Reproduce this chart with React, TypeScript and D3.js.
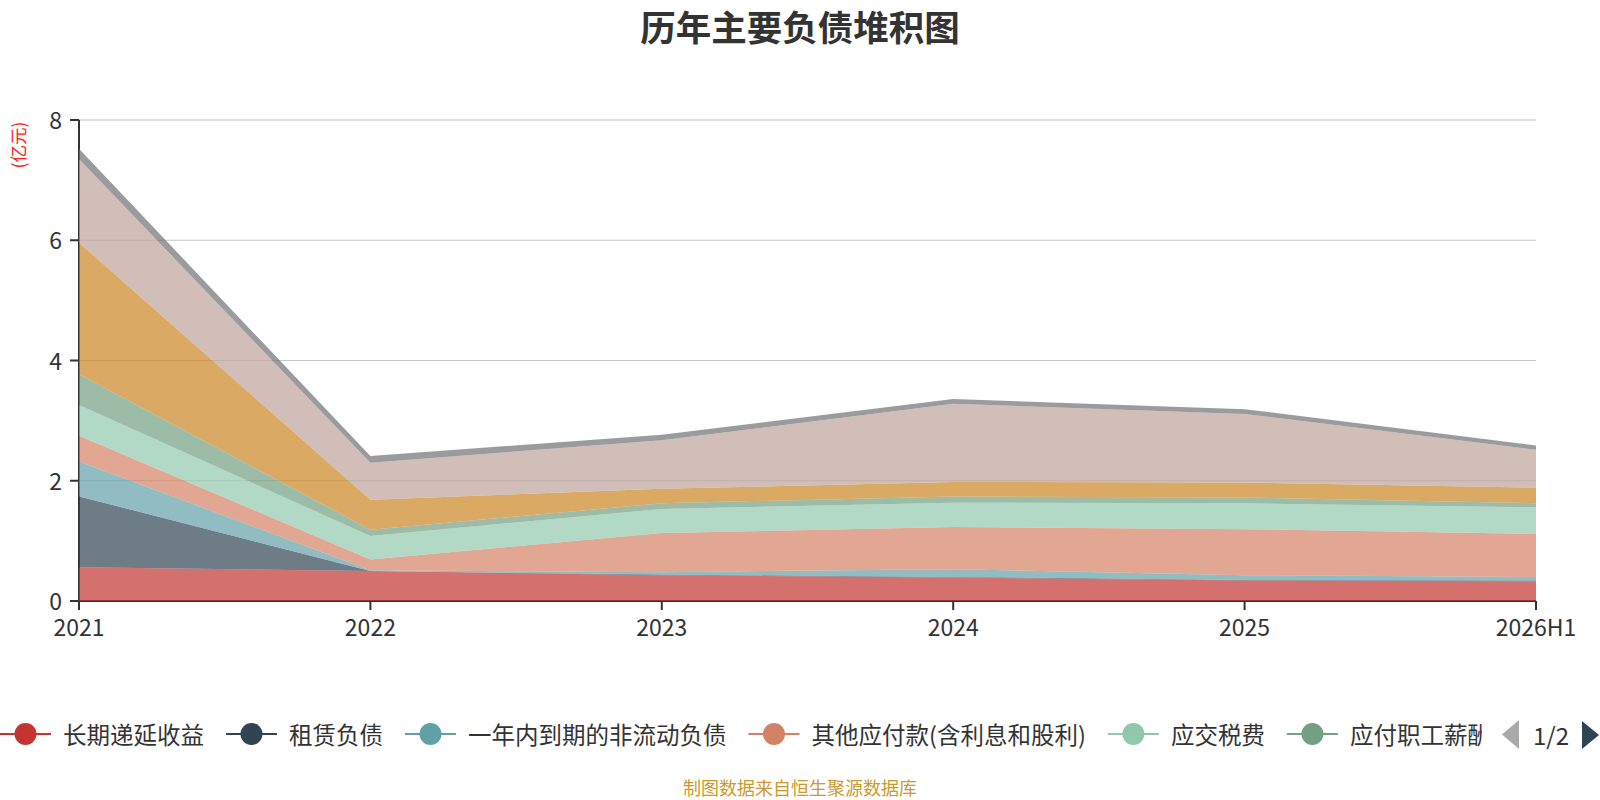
import React, { useEffect, useRef } from 'react';
import * as d3 from 'd3';

const categories = ['2021', '2022', '2023', '2024', '2025', '2026H1'];
const seriesNames = [
  '长期递延收益',
  '租赁负债',
  '一年内到期的非流动负债',
  '其他应付款(含利息和股利)',
  '应交税费',
  '应付职工薪酬',
  '合同负债',
  '应付账款',
  '其他流动负债',
];
const seriesColors = ['#c23531', '#2f4554', '#61a0a8', '#d48265', '#91c7ae', '#749f83', '#ca8622', '#bda29a', '#6e7074'];

const deferredIncome = [0.56, 0.5, 0.43, 0.39, 0.34, 0.33];
const leaseLiab = [1.18, 0.0, 0.01, 0.01, 0.01, 0.01];
const currentNonCurrent = [0.58, 0.01, 0.04, 0.13, 0.08, 0.06];
const otherPayables = [0.43, 0.18, 0.65, 0.7, 0.765, 0.715];
const taxesPayable = [0.51, 0.39, 0.4, 0.405, 0.43, 0.444];
const payrollPayable = [0.51, 0.105, 0.095, 0.105, 0.095, 0.067];
const contractLiab = [2.19, 0.5, 0.24, 0.24, 0.25, 0.26];
const accountsPayable = [1.39, 0.615, 0.81, 1.3, 1.14, 0.63];
const otherCurrentLiab = [0.17, 0.11, 0.09, 0.08, 0.08, 0.07];

const seriesValues = [
  deferredIncome,
  leaseLiab,
  currentNonCurrent,
  otherPayables,
  taxesPayable,
  payrollPayable,
  contractLiab,
  accountsPayable,
  otherCurrentLiab,
];
const yTicks = [0, 2, 4, 6, 8];
const legendVisibleCount = 6;

const FONT = '"Noto Sans CJK SC", "Noto Sans", sans-serif';

export default function App() {
  const ref = useRef<SVGSVGElement | null>(null);

  useEffect(() => {
    document.body.style.margin = '0';
    const svg = d3.select(ref.current!);
    svg.selectAll('*').remove();

    const W = 1600;
    const left = 79, right = 1536, top = 120, bottom = 601;

    const x = d3.scalePoint<string>().domain(categories).range([left, right]);
    const y = d3.scaleLinear().domain([0, 8]).range([bottom, top]);

    // title
    svg.append('text')
      .attr('x', W / 2).attr('y', 25)
      .attr('text-anchor', 'middle').attr('dominant-baseline', 'central')
      .attr('font-family', FONT).attr('font-size', 35.5).attr('font-weight', 'bold')
      .attr('fill', '#333').text('历年主要负债堆积图');

    // grid lines
    svg.append('g').selectAll('line').data(yTicks.filter(t => t > 0)).join('line')
      .attr('x1', left).attr('x2', right)
      .attr('y1', d => y(d)).attr('y2', d => y(d))
      .attr('stroke', '#c8c8c8').attr('stroke-width', 1.2);

    // axis lines (beneath the semi-transparent areas)
    svg.append('line').attr('x1', left).attr('x2', left).attr('y1', top).attr('y2', bottom)
      .attr('stroke', '#333').attr('stroke-width', 2);
    svg.append('line').attr('x1', left).attr('x2', right).attr('y1', bottom).attr('y2', bottom)
      .attr('stroke', '#333').attr('stroke-width', 2);

    // stacked areas
    const table = categories.map((c, i) => {
      const o: any = { cat: c };
      seriesNames.forEach((n, k) => { o[n] = seriesValues[k][i]; });
      return o;
    });
    const stacked = d3.stack<any>().keys(seriesNames)(table);
    const area = d3.area<any>()
      .x(d => x(d.data.cat)!)
      .y0(d => y(d[0]))
      .y1(d => y(d[1]));
    svg.append('g').selectAll('path').data(stacked).join('path')
      .attr('d', d => area(d as any))
      .attr('fill', (_d, i) => seriesColors[i])
      .attr('fill-opacity', 0.7);

    // y ticks & labels
    const yg = svg.append('g');
    yg.selectAll('line').data(yTicks).join('line')
      .attr('x1', left - 9).attr('x2', left)
      .attr('y1', d => y(d)).attr('y2', d => y(d))
      .attr('stroke', '#333').attr('stroke-width', 2);
    yg.selectAll('text').data(yTicks).join('text')
      .attr('x', 62).attr('y', d => y(d) - 1)
      .attr('text-anchor', 'end').attr('dominant-baseline', 'central')
      .attr('font-family', FONT).attr('font-size', 23).attr('fill', '#333')
      .text(d => String(d));

    // x ticks & labels
    const xg = svg.append('g');
    xg.selectAll('line').data(categories).join('line')
      .attr('x1', d => x(d)!).attr('x2', d => x(d)!)
      .attr('y1', bottom).attr('y2', bottom + 9)
      .attr('stroke', '#333').attr('stroke-width', 2);
    xg.selectAll('text').data(categories).join('text')
      .attr('x', d => x(d)!).attr('y', 626)
      .attr('text-anchor', 'middle').attr('dominant-baseline', 'central')
      .attr('font-family', FONT).attr('font-size', 23).attr('fill', '#333')
      .text(d => d);

    // y-axis unit
    svg.append('text')
      .attr('transform', 'translate(17,145) rotate(-90)')
      .attr('text-anchor', 'middle').attr('dominant-baseline', 'central')
      .attr('font-family', FONT).attr('font-size', 17.5).attr('fill', '#ff2020')
      .text('(亿元)');

    // legend
    const defs = svg.append('defs');
    defs.append('clipPath').attr('id', 'legendClip')
      .append('rect').attr('x', 0).attr('y', 700).attr('width', 1482).attr('height', 70);
    const lg = svg.append('g').attr('clip-path', 'url(#legendClip)');
    const ly = 734;
    let cx = 0;
    for (let i = 0; i < legendVisibleCount; i++) {
      const color = seriesColors[i];
      lg.append('line').attr('x1', cx).attr('x2', cx + 51).attr('y1', ly).attr('y2', ly)
        .attr('stroke', color).attr('stroke-width', 2);
      lg.append('circle').attr('cx', cx + 25.5).attr('cy', ly).attr('r', 11).attr('fill', color);
      const t = lg.append('text').attr('x', cx + 63).attr('y', ly)
        .attr('dominant-baseline', 'central')
        .attr('font-family', FONT).attr('font-size', 23.5).attr('fill', '#333')
        .text(seriesNames[i]);
      const w = (t.node() as SVGTextElement).getComputedTextLength();
      cx = cx + 63 + w + 22;
    }
    // pager
    svg.append('path').attr('d', 'M1519,720 L1519,749 L1502,734.5 Z').attr('fill', '#aaa');
    svg.append('text').attr('x', 1551).attr('y', ly)
      .attr('text-anchor', 'middle').attr('dominant-baseline', 'central')
      .attr('font-family', FONT).attr('font-size', 24).attr('fill', '#333').text('1/2');
    svg.append('path').attr('d', 'M1582,721 L1582,749 L1599,735 Z').attr('fill', '#2f4554');

    // footer
    svg.append('text').attr('x', W / 2).attr('y', 787)
      .attr('text-anchor', 'middle').attr('dominant-baseline', 'central')
      .attr('font-family', FONT).attr('font-size', 18).attr('fill', '#cc9a2e')
      .text('制图数据来自恒生聚源数据库');
  }, []);

  return <svg ref={ref} width={1600} height={800} style={{ display: 'block', background: '#fff' }} />;
}
